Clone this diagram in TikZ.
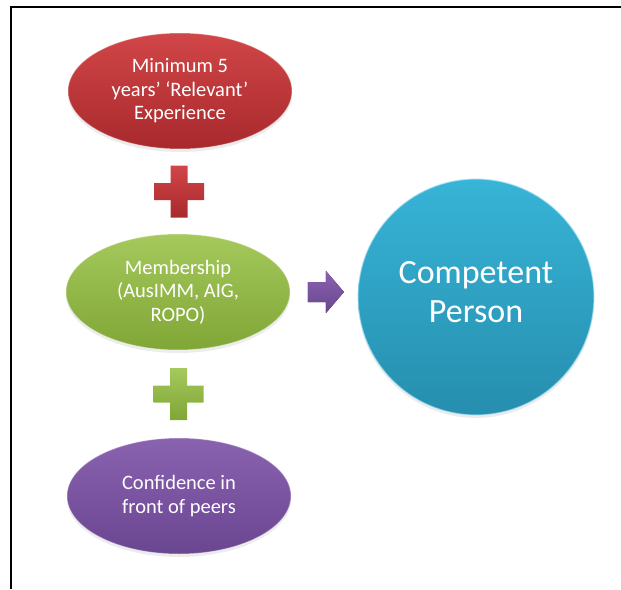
\documentclass[tikz,border=0pt]{standalone}
\usepackage{fontspec}
\setmainfont{Carlito}
\usetikzlibrary{shapes.geometric,calc,shadows}

\definecolor{redtop}{HTML}{D14648}
\definecolor{redbot}{HTML}{A8292C}
\definecolor{greentop}{HTML}{A5C95C}
\definecolor{greenbot}{HTML}{80A636}
\definecolor{purpletop}{HTML}{8A63B0}
\definecolor{purplebot}{HTML}{6A4590}
\definecolor{bluetop}{HTML}{37B4D7}
\definecolor{bluebot}{HTML}{268EAE}

\tikzset{
  bubble/.style={ellipse, inner sep=0pt, minimum width=224pt, minimum height=116pt,
    text=white, align=center, font=\fontsize{20.5}{23.5}\selectfont,
    draw=white, draw opacity=0.35, line width=1pt,
    drop shadow={opacity=0.15, shadow xshift=0pt, shadow yshift=-3pt}},
  plusmark/.pic={
    \path[pic actions] (-8.5,-26) -- (8.5,-26) -- (8.5,-8.5) -- (25,-8.5) -- (25,8.5)
      -- (8.5,8.5) -- (8.5,26) -- (-8.5,26) -- (-8.5,8.5) -- (-25,8.5) -- (-25,-8.5)
      -- (-8.5,-8.5) -- cycle;
  }
}

\begin{document}
\begin{tikzpicture}[x=1pt,y=-1pt]
  \useasboundingbox (0,0) rectangle (621,589);
  % frame
  \draw[line width=2pt] (11,589) -- (11,7) -- (621,7);

  \node[bubble, top color=redtop, bottom color=redbot] (exp) at (180,91)
    {Minimum 5\\years’ ‘Relevant’\\Experience};
  \node[bubble, top color=greentop, bottom color=greenbot] (mem) at (178,292)
    {Membership\\(AusIMM, AIG,\\ROPO)};
  \node[bubble, top color=purpletop, bottom color=purplebot] (conf) at (179,496)
    {Confidence in\\front of peers};
  \node[circle, inner sep=0pt, minimum size=236pt, top color=bluetop, bottom color=bluebot,
    draw=cyan!30, draw opacity=0.6, line width=1.2pt, text=white, align=center,
    font=\fontsize{34}{39}\selectfont, text depth=10pt,
    drop shadow={opacity=0.15, shadow xshift=0pt, shadow yshift=-3pt}] (cp) at (476,297)
    {Competent\\Person};

  % plus signs between the bubbles
  \pic[top color=redtop, bottom color=redbot] at ($(exp.south)!0.5!(mem.north)$) {plusmark};
  \pic[top color=greentop, bottom color=greenbot] at ($(mem.south)!0.5!(conf.north)$) {plusmark};

  % arrow to the circle
  \coordinate (arr) at ($(mem.east)!0.5!(cp.west |- mem.east)$);
  \fill[top color=purpletop, bottom color=purplebot]
    ([shift={(-16,-10)}]arr) -- ++(18,0) -- ++(0,-11) -- ++(18,21) -- ++(-18,21)
    -- ++(0,-11) -- ++(-18,0) -- cycle;
\end{tikzpicture}
\end{document}
